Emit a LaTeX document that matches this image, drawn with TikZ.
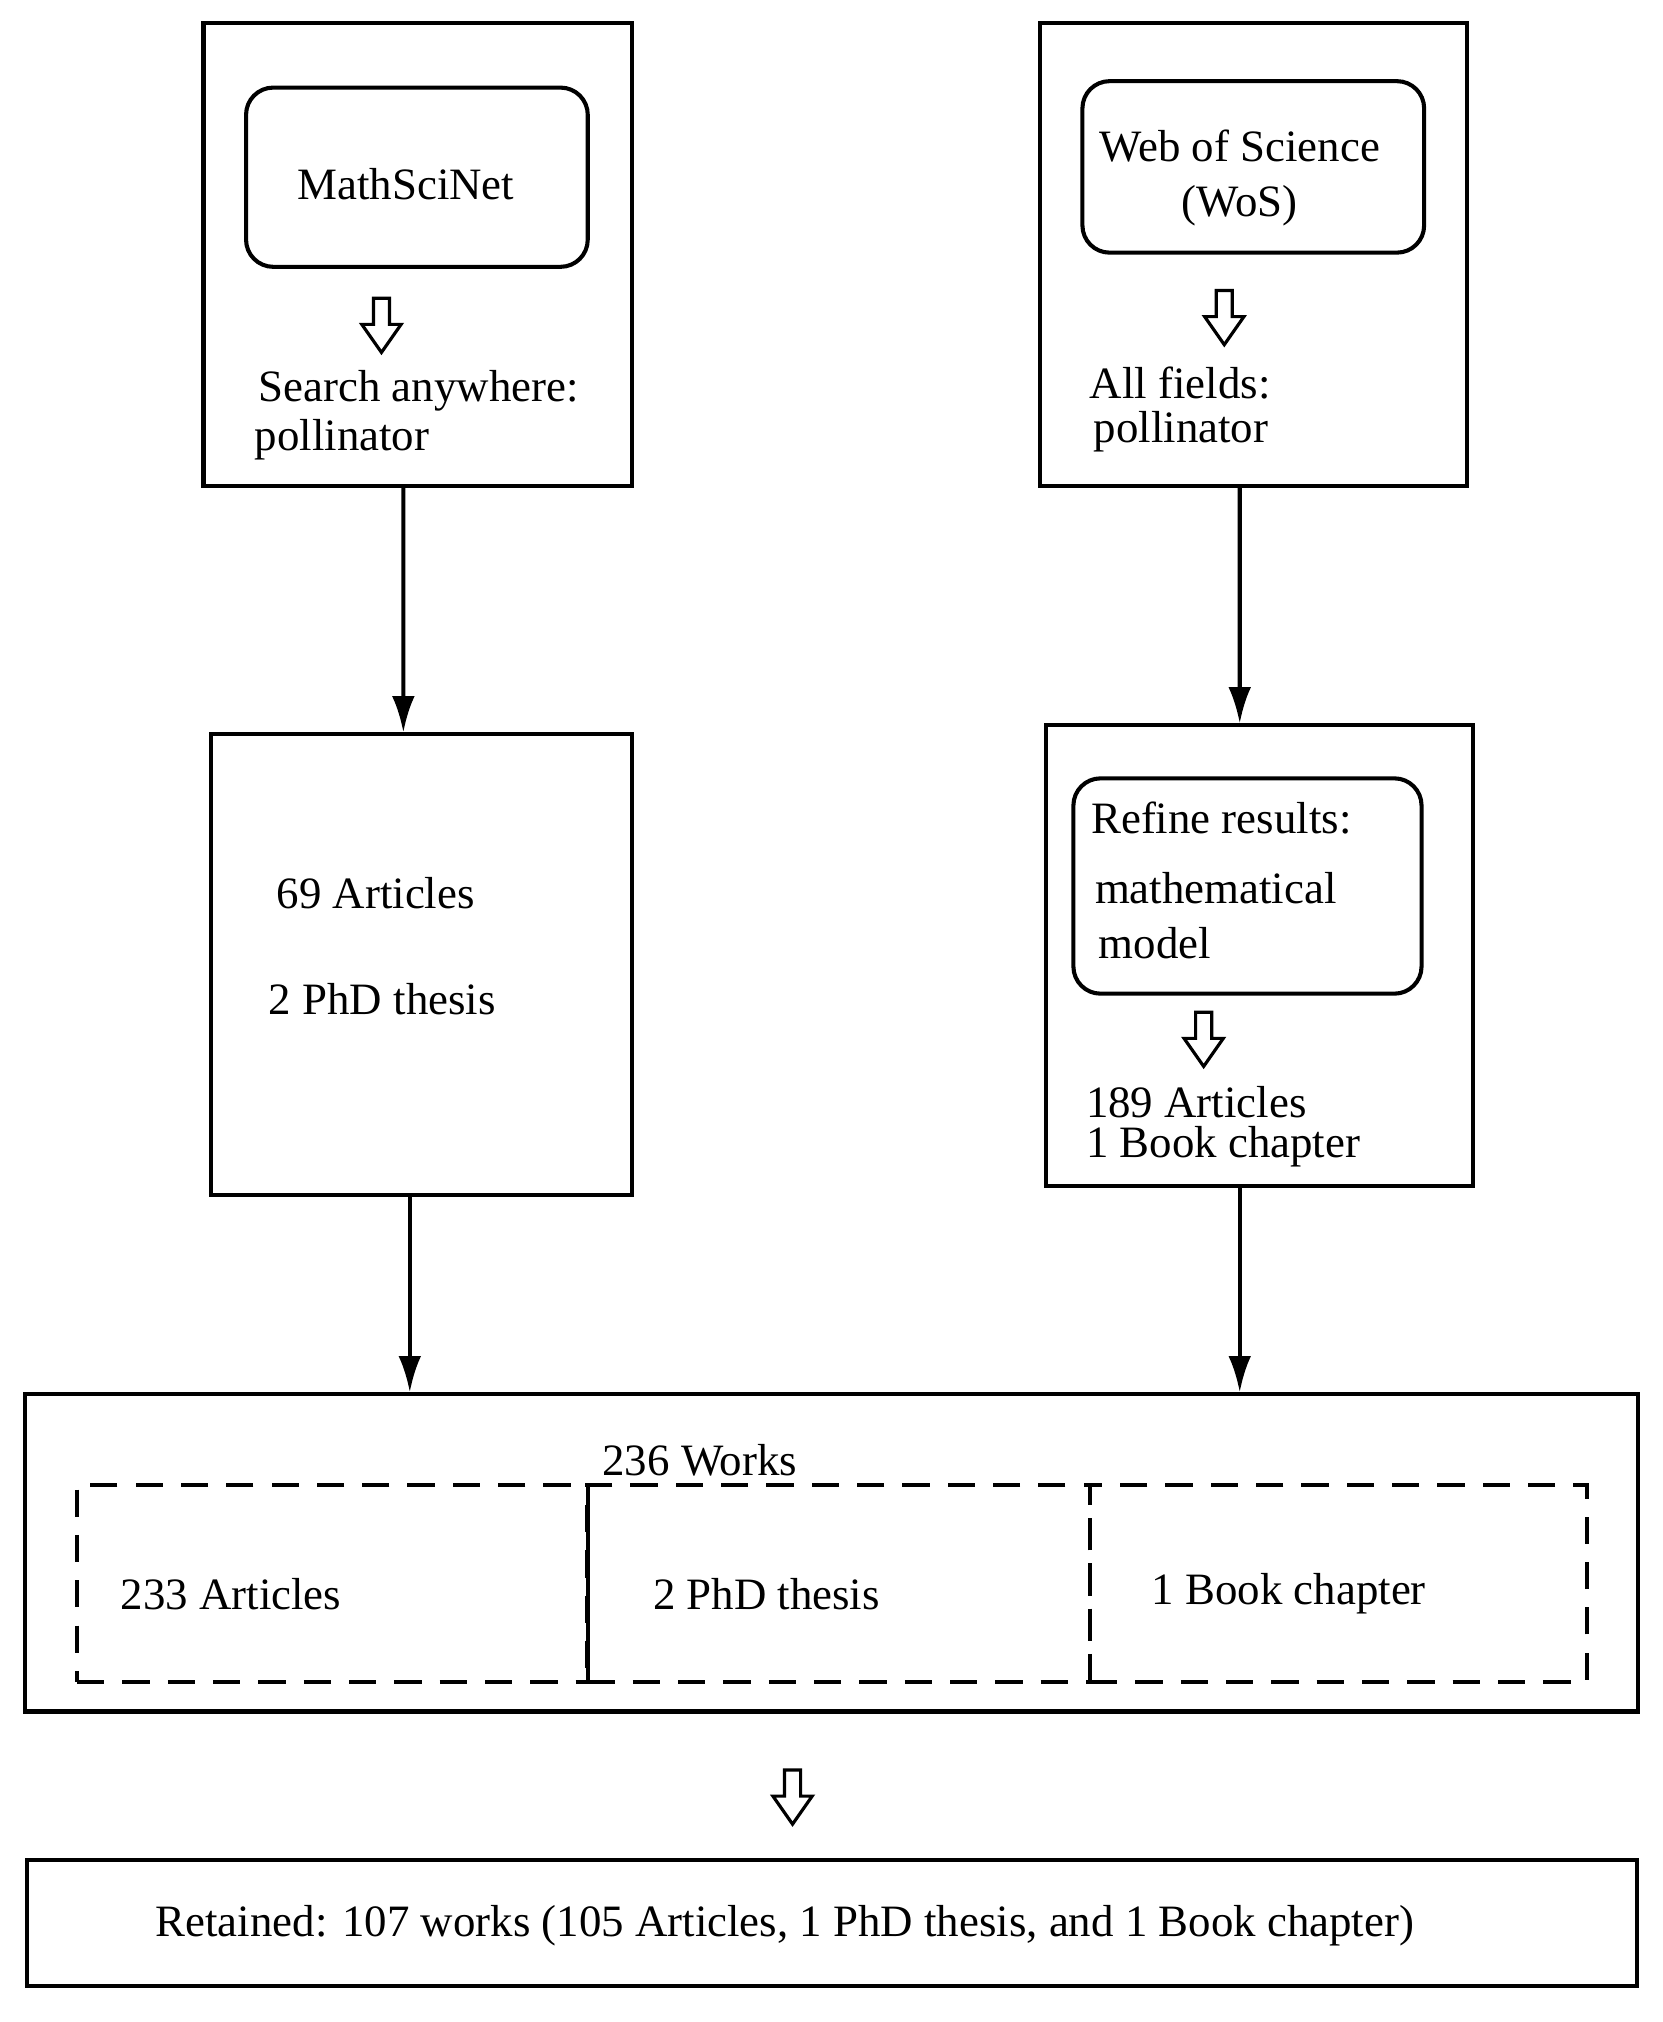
\documentclass[tikz,border=0pt]{standalone}
\usepackage{fontspec}
\setmainfont{Liberation Serif}
\usetikzlibrary{arrows.meta,shapes.arrows}
\tikzset{
  box/.style={draw, line width=0.9pt, inner sep=0pt},
  rbox/.style={box, rounded corners=6pt},
  dbox/.style={draw, dashed, line width=0.9pt, dash pattern=on 6pt off 4pt, inner sep=0pt},
  txt/.style={anchor=west, inner sep=0pt, yshift=-0.03cm, font=\fontsize{9.9}{12}\selectfont, align=left},
  flow/.style={line width=0.9pt, -{Latex[length=8pt,width=5pt]}},
  hollow/.style={single arrow, draw, line width=0.7pt, shape border rotate=270,
    minimum height=0.42cm, inner sep=0.05cm, single arrow head extend=0.09cm,
    single arrow tip angle=70}
}
\begin{document}
\begin{tikzpicture}[x=0.01cm,y=-0.01cm]
\useasboundingbox (0,0) rectangle (1290,1569);

% MathSciNet column
\node[box, minimum width=3.32cm, minimum height=3.59cm] (msn) at (324,197.5) {};
\node[rbox, minimum width=2.65cm, minimum height=1.39cm] (msnname) at (323.5,137.5) {};
\node[txt, anchor=center] (msnlbl) at (315,140) {MathSciNet};
\node[hollow] (msnh) at (296,248) {};
\node[txt] (msnq) at (200,300) {Search anywhere:};
\node[txt] (msnq2) at (197,338) {pollinator};

\node[box, minimum width=3.26cm, minimum height=3.57cm] (msnres) at (327,748.5) {};
\node[txt] (msnart) at (214,690) {69 Articles};
\node[txt] (msnphd) at (208,772) {2 PhD thesis};

% WoS column
\node[box, minimum width=3.31cm, minimum height=3.59cm] (wos) at (972.5,197.5) {};
\node[rbox, minimum width=2.65cm, minimum height=1.33cm] (wosname) at (972.5,129.5) {};
\node[txt, align=center, anchor=center] (woslbl) at (962,135) {Web of Science\\(WoS)};
\node[hollow] (wosh) at (950,242) {};
\node[txt] (wosq) at (845,294) {All fields:};
\node[txt] (wosq2) at (848,332) {pollinator};

\node[box, minimum width=3.31cm, minimum height=3.57cm] (wosres) at (977.5,741.5) {};
\node[rbox, minimum width=2.70cm, minimum height=1.67cm] (refine) at (968,687.5) {};
\node[txt] (ref1) at (846,632) {Refine results:};
\node[txt] (ref2) at (849,686) {mathematical};
\node[txt] (ref3) at (852,729) {model};
\node[hollow] (refh) at (934,802) {};
\node[txt] (wosart) at (842,852) {189 Articles};
\node[txt] (wosbook) at (842,887) {1 Book chapter};

% merged works
\node[box, minimum width=12.51cm, minimum height=2.46cm] (works) at (645.5,1205) {};
\node[txt, anchor=center] (workslbl) at (543,1130) {236 Works};
\node[dbox, minimum width=3.96cm, minimum height=1.53cm] (art) at (258,1228.5) {};
\node[dbox, minimum width=3.90cm, minimum height=1.53cm] (phd) at (651,1228.5) {};
\node[dbox, minimum width=3.85cm, minimum height=1.53cm] (book) at (1038.5,1228.5) {};
\node[txt] (artlbl) at (93,1234) {233 Articles};
\node[txt] (phdlbl) at (506,1234) {2 PhD thesis};
\node[txt] (booklbl) at (893,1234) {1 Book chapter};

\node[hollow] (worksh) at (615,1390) {};
\node[box, minimum width=12.49cm, minimum height=0.98cm] (kept) at (645.5,1492) {};
\node[txt, anchor=center] (keptlbl) at (609,1491) {Retained: 107 works (105 Articles, 1 PhD thesis, and 1 Book chapter)};

% connectors
\draw[flow] ([xshift=-0.11cm]msn.south) -- ([xshift=-0.14cm]msnres.north);
\draw[flow] ([xshift=-0.105cm]wos.south) -- ([xshift=-0.155cm]wosres.north);
\draw[flow] ([xshift=-0.09cm]msnres.south) -- ([xshift=-0.09cm]msnres.south |- works.north);
\draw[flow] ([xshift=-0.155cm]wosres.south) -- ([xshift=-0.155cm]wosres.south |- works.north);
\end{tikzpicture}
\end{document}
